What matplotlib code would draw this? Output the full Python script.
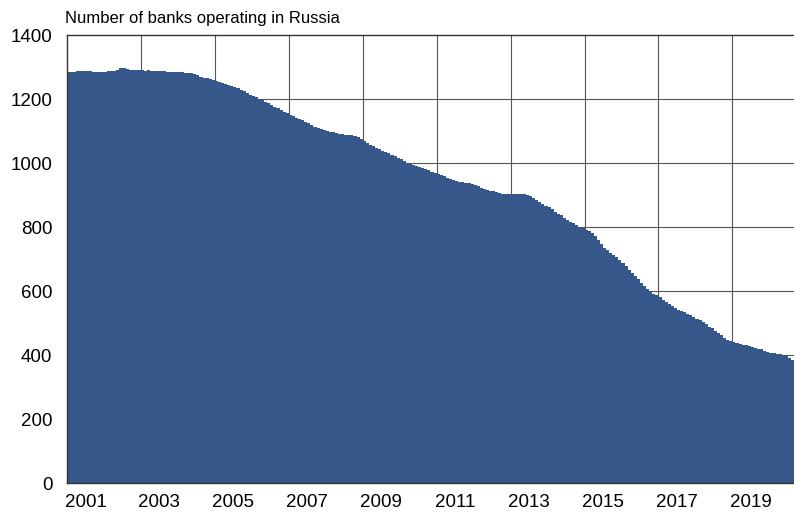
import numpy as np
import matplotlib.pyplot as plt
from matplotlib.ticker import FixedLocator, NullFormatter

plt.rcParams['font.family'] = ['Liberation Sans', 'DejaVu Sans']

# Monthly number of banks, Jan 2001 .. Aug 2020
start_year = 2001
banks_2001 = [1283, 1285, 1284, 1286, 1287, 1287, 1287, 1286, 1285, 1283, 1284, 1285]
banks_2002 = [1285, 1286, 1287, 1288, 1292, 1296, 1297, 1295, 1292, 1291, 1290, 1290]
banks_2003 = [1290, 1289, 1290, 1289, 1288, 1287, 1287, 1286, 1285, 1285, 1284, 1284]
banks_2004 = [1283, 1283, 1282, 1281, 1280, 1278, 1274, 1270, 1267, 1265, 1262, 1259]
banks_2005 = [1257, 1253, 1250, 1247, 1244, 1240, 1237, 1233, 1229, 1224, 1219, 1214]
banks_2006 = [1210, 1206, 1201, 1196, 1192, 1187, 1182, 1176, 1171, 1166, 1160, 1155]
banks_2007 = [1150, 1146, 1142, 1138, 1134, 1129, 1124, 1119, 1114, 1110, 1106, 1103]
banks_2008 = [1100, 1098, 1096, 1094, 1092, 1090, 1089, 1088, 1087, 1085, 1080, 1074]
banks_2009 = [1068, 1062, 1057, 1052, 1047, 1043, 1039, 1035, 1030, 1026, 1021, 1016]
banks_2010 = [1011, 1006, 1001, 998, 994, 990, 987, 984, 981, 977, 973, 969]
banks_2011 = [966, 962, 958, 954, 951, 948, 945, 942, 940, 938, 936, 933]
banks_2012 = [930, 927, 923, 920, 917, 914, 911, 908, 906, 904, 903, 902]
banks_2013 = [902, 902, 902, 902, 902, 900, 896, 891, 885, 879, 873, 866]
banks_2014 = [861, 855, 848, 842, 836, 829, 823, 817, 811, 806, 801, 796]
banks_2015 = [792, 787, 780, 771, 760, 748, 735, 728, 720, 713, 705, 697]
banks_2016 = [688, 677, 666, 656, 646, 636, 626, 616, 607, 600, 592, 586]
banks_2017 = [580, 573, 566, 560, 553, 547, 542, 537, 533, 529, 524, 519]
banks_2018 = [514, 508, 502, 496, 489, 483, 476, 469, 461, 454, 448, 443]
banks_2019 = [440, 437, 434, 432, 430, 428, 425, 422, 420, 418, 414, 410]
banks_2020 = [406, 405, 404, 403, 400, 396, 391, 385]

banks = np.array(banks_2001 + banks_2002 + banks_2003 + banks_2004 + banks_2005
                 + banks_2006 + banks_2007 + banks_2008 + banks_2009 + banks_2010
                 + banks_2011 + banks_2012 + banks_2013 + banks_2014 + banks_2015
                 + banks_2016 + banks_2017 + banks_2018 + banks_2019 + banks_2020)

label_years = list(range(2001, 2021, 2))
y_ticks = [0, 200, 400, 600, 800, 1000, 1200, 1400]

edges = start_year + np.arange(len(banks) + 1) / 12.0

fig = plt.figure(figsize=(7.94, 5.13), dpi=100)
ax = fig.add_axes([67 / 794, 30 / 513, 727 / 794, 448 / 513])

ax.stairs(banks, edges, fill=True, color='#36578a', linewidth=0, zorder=2)

ax.set_xlim(edges[0], edges[-1])
ax.set_ylim(0, 1400)

# year boundary ticks, labels centred in the middle of the odd years
ax.xaxis.set_major_locator(FixedLocator(np.arange(2001, 2021)))
ax.xaxis.set_major_formatter(NullFormatter())
ax.xaxis.set_minor_locator(FixedLocator([y + 0.5 for y in label_years]))
ax.set_xticklabels([str(y) for y in label_years], minor=True, fontsize=13.5)
ax.tick_params(axis='x', which='major', direction='in', length=4, width=0.8,
               color='#333333')
ax.tick_params(axis='x', which='minor', length=0, pad=8)
for y in range(2003, 2021, 2):
    ax.axvline(y, color='#555555', linewidth=0.8, zorder=1)

ax.set_yticks(y_ticks)
ax.set_yticklabels([str(v) for v in y_ticks], fontsize=13.5)
ax.tick_params(axis='y', length=0, pad=10.5)
for v in y_ticks[1:-1]:
    ax.axhline(v, color='#555555', linewidth=0.8, zorder=1)

for side in ['left', 'bottom', 'top', 'right']:
    ax.spines[side].set_color('#333333')
    ax.spines[side].set_linewidth(1.0)
ax.spines['right'].set_visible(False)

fig.text(65 / 794, 1 - 18 / 513, 'Number of banks operating in Russia',
         fontsize=12, ha='left', va='center')

fig.savefig('out.png', dpi=100)
